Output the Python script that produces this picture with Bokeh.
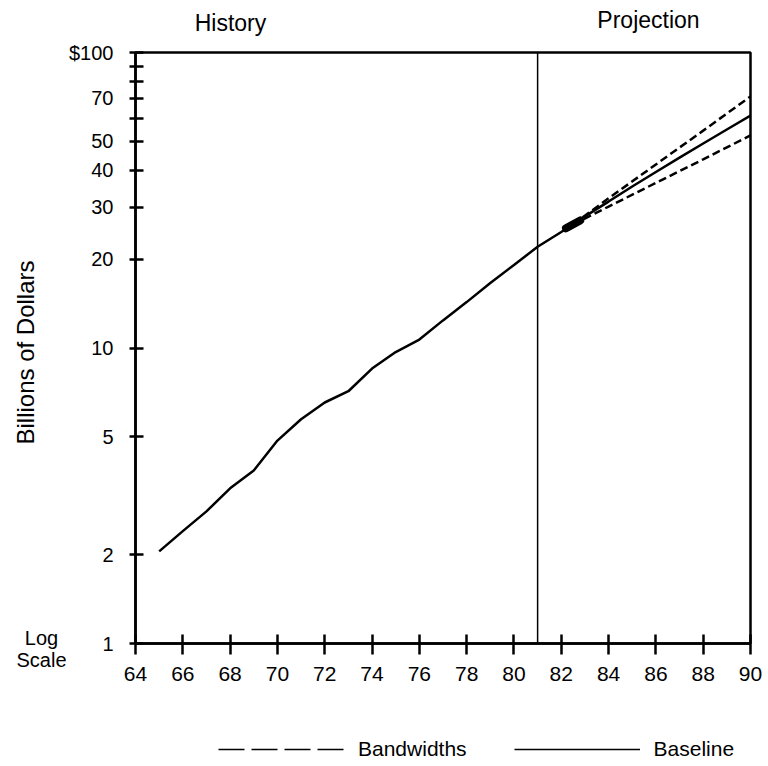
from bokeh.plotting import figure
from bokeh.models import Range1d, FixedTicker, Span, Legend, LegendItem
from bokeh.layouts import column, row
from bokeh.core.properties import value
from bokeh.embed import file_html
from bokeh.resources import INLINE
import math

# ---- data ----
hist_years = [65, 66, 67, 68, 69, 70, 71, 72, 73, 74, 75, 76, 77, 78, 79, 80, 81]
hist_values = [2.05, 2.4, 2.8, 3.35, 3.85, 4.86, 5.74, 6.54, 7.14, 8.52, 9.69, 10.68, 12.4, 14.3, 16.6, 19.1, 22.0]

base_years = [81, 82, 83, 84, 85, 86, 87, 88, 89, 90]
base_values = [22.0, 24.7, 27.9, 31.3, 35.2, 39.4, 44.1, 49.2, 54.9, 61.2]

band_years = [82.5, 84, 86, 88, 90]
upper_values = [26.2, 32.1, 41.8, 54.4, 71.0]
lower_values = [26.2, 30.1, 36.2, 43.5, 52.4]

blob_years = [82.2, 82.8]
blob_values = [25.4, 27.0]

x_ticks = list(range(64, 91, 2))
y_ticks = [1, 2, 5, 10, 20, 30, 40, 50, 60, 70, 80, 90, 100]
y_labels = {1: "1", 2: "2", 5: "5", 10: "10", 20: "20", 30: "30", 40: "40", 50: "50",
            60: "", 70: "70", 80: "", 90: "", 100: "$100"}
split_year = 81

section_titles = ["History", "Projection"]
y_title = ["Billions of Dollars"]
scale_note = ["Log", "Scale"]
legend_labels = ["Bandwidths", "Baseline"]

FONT = "Liberation Sans"

# ---- layout geometry (pixels) ----
PAGE_W = 768
TOP_H = 38
LEFT_W = 66
MAIN_BL, MAIN_FW, MAIN_BR = 67, 615, 18
MAIN_BT, MAIN_FH, MAIN_BB = 14, 591, 57
MAIN_H = MAIN_BT + MAIN_FH + MAIN_BB
BOTTOM_H = 66


def blank(fw, fh, xr, yr, top=0):
    f = figure(frame_width=fw, frame_height=fh, x_range=xr, y_range=yr,
               x_axis_location=None, y_axis_location=None,
               output_backend="svg", toolbar_location=None,
               min_border=0, min_border_left=0, min_border_right=0,
               min_border_top=top, min_border_bottom=0)
    f.grid.visible = False
    f.outline_line_color = None
    f.background_fill_color = "white"
    f.border_fill_color = "white"
    return f


# ---- top strip: section titles ----
top = blank(PAGE_W, TOP_H, Range1d(0, PAGE_W), Range1d(TOP_H, 0))
top.text(x=[230, 648], y=[22, 19], text=section_titles, text_font=value(FONT),
         text_font_size=value("23px"), text_align="center", text_baseline="middle",
         text_color="black")

# ---- left strip: axis title and scale note (y in page pixels) ----
left_top = TOP_H + MAIN_BT
left_bottom = TOP_H + MAIN_H
left = blank(LEFT_W, MAIN_H - MAIN_BT, Range1d(0, LEFT_W), Range1d(left_bottom, left_top), top=MAIN_BT)
left.text(x=[25], y=[352], text=y_title, angle=math.pi / 2, text_font=value(FONT),
          text_font_size=value("24px"), text_align="center", text_baseline="middle",
          text_color="black")
left.text(x=[41, 41], y=[637, 659], text=scale_note, text_font=value(FONT),
          text_font_size=value("20px"), text_align="center", text_baseline="middle",
          text_color="black")

# ---- main chart ----
p = figure(frame_width=MAIN_FW, frame_height=MAIN_FH, y_axis_type="log",
           x_range=Range1d(64, 90), y_range=Range1d(1, 100),
           output_backend="svg", toolbar_location=None,
           min_border_left=MAIN_BL, min_border_right=MAIN_BR,
           min_border_top=MAIN_BT, min_border_bottom=MAIN_BB)
p.background_fill_color = "white"
p.border_fill_color = "white"
p.outline_line_color = "black"
p.outline_line_width = 2.5
p.xgrid.visible = False
p.ygrid.visible = False

for ax in (p.xaxis[0], p.yaxis[0]):
    ax.axis_line_width = 2.5
    ax.axis_line_color = "black"
    ax.major_tick_line_width = 2.5
    ax.major_tick_line_color = "black"
    ax.minor_tick_line_color = None
    ax.major_label_text_font = FONT
    ax.major_label_text_color = "black"

p.xaxis.ticker = FixedTicker(ticks=x_ticks, minor_ticks=[])
p.xaxis.major_tick_in = 9
p.xaxis.major_tick_out = 11
p.xaxis.major_label_standoff = 12
p.xaxis.major_label_text_font_size = "21px"

p.yaxis.ticker = FixedTicker(ticks=y_ticks, minor_ticks=[])
p.yaxis.major_tick_in = 8
p.yaxis.major_tick_out = 6
p.yaxis.major_label_standoff = 16
p.yaxis.major_label_text_font_size = "20px"
p.yaxis.major_label_overrides = y_labels

p.add_layout(Span(location=split_year, dimension="height", line_color="black", line_width=1.5))

p.line(hist_years, hist_values, line_color="black", line_width=2.5)
p.line(base_years, base_values, line_color="black", line_width=2.5)
p.line(band_years, upper_values, line_color="black", line_width=2.5, line_dash="8 4")
p.line(band_years, lower_values, line_color="black", line_width=2.5, line_dash="8 4")
p.line(blob_years, blob_values, line_color="black", line_width=8, line_cap="round")

# ---- bottom strip: legend (sample renderers kept off-screen) ----
bottom = blank(PAGE_W, BOTTOM_H, Range1d(0, PAGE_W), Range1d(0, BOTTOM_H))
r_dash = bottom.line(x=[-50, -40], y=[-50, -50], line_color="black", line_width=1.5, line_dash="26 7")
r_solid = bottom.line(x=[-50, -40], y=[-50, -50], line_color="black", line_width=1.5)
legend = Legend(items=[LegendItem(label=legend_labels[0], renderers=[r_dash]),
                       LegendItem(label=legend_labels[1], renderers=[r_solid])],
                orientation="horizontal", location=(218, 5),
                glyph_width=126, glyph_height=20, label_standoff=14, spacing=47,
                padding=0, margin=0, border_line_color=None, background_fill_alpha=0,
                label_text_font=FONT, label_text_font_size="21px", label_text_color="black")
bottom.add_layout(legend, "center")

layout = column(top, row(left, p), bottom)

open("out.html", "w").write(file_html(layout, INLINE))
